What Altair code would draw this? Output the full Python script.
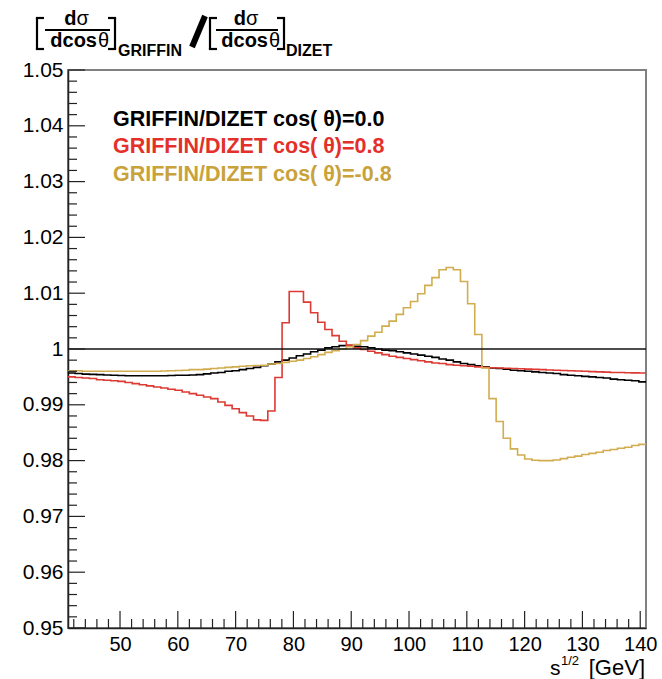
import altair as alt
import pandas as pd

FONT = "Liberation Sans"

# Histogram binning (81 bins between 41 and 141 GeV)
X_LO, X_HI, N_BINS = 41.0, 141.0, 81

# Ratio GRIFFIN/DIZET, one value per bin
ratio_cos00 = [
    0.9957, 0.9956, 0.9955, 0.99545, 0.9954, 0.99535, 0.9953, 0.99525, 0.9952, 0.9952,
    0.9952, 0.9952, 0.9952, 0.9952, 0.99525, 0.9953, 0.9953, 0.99535, 0.9954, 0.99555,
    0.9957, 0.9958, 0.9960, 0.9961, 0.9963, 0.9965, 0.9967, 0.9970, 0.9973, 0.9977,
    0.9980, 0.9984, 0.9988, 0.9991, 0.9995, 0.9998, 1.0002, 1.0004, 1.0006, 1.0006,
    1.0005, 1.0004, 1.0002, 1.0000, 0.9998, 0.9997, 0.9995, 0.9993, 0.9991, 0.9989,
    0.9987, 0.9985, 0.9982, 0.9980, 0.9977, 0.9974, 0.9972, 0.9970, 0.9968, 0.9966,
    0.9965, 0.9964, 0.9962, 0.9961, 0.9960, 0.9959, 0.9958, 0.9957, 0.9956, 0.9954,
    0.9953, 0.9952, 0.9951, 0.9950, 0.9949, 0.9948, 0.9946, 0.9945, 0.9944, 0.9943,
    0.9941,
]
ratio_cos08 = [
    0.9950, 0.9949, 0.9948, 0.9947, 0.9945, 0.9944, 0.9943, 0.9942, 0.9940, 0.9938,
    0.9936, 0.9934, 0.9932, 0.9930, 0.9928, 0.9926, 0.9923, 0.9920, 0.9917, 0.9914,
    0.9911, 0.9905, 0.9899, 0.9893, 0.9886, 0.9880, 0.9873, 0.9872, 0.9889, 0.9949,
    1.0047, 1.0103, 1.0103, 1.0084, 1.0065, 1.0048, 1.0035, 1.0024, 1.0014, 1.0007,
    1.0002, 0.9999, 0.9996, 0.9993, 0.9990, 0.9987, 0.9985, 0.9983, 0.9981, 0.9979,
    0.9977, 0.9975, 0.9974, 0.9972, 0.9971, 0.9970, 0.9969, 0.9968, 0.9967, 0.99665,
    0.9966, 0.99655, 0.9965, 0.99645, 0.9964, 0.99635, 0.9963, 0.99625, 0.9962, 0.99615,
    0.9961, 0.99605, 0.9960, 0.99595, 0.9959, 0.99585, 0.9958, 0.99578, 0.99575, 0.99572,
    0.9957,
]
ratio_cosm08 = [
    0.9961, 0.9961, 0.9960, 0.9960, 0.9960, 0.9960, 0.9960, 0.9960, 0.9960, 0.9960,
    0.9960, 0.9960, 0.9960, 0.99605, 0.9961, 0.99615, 0.9962, 0.9963, 0.9963, 0.9964,
    0.9965, 0.9966, 0.9967, 0.9968, 0.9969, 0.9970, 0.99705, 0.9971, 0.9973, 0.9974,
    0.9976, 0.9978, 0.9980, 0.9983, 0.9986, 0.9990, 0.9994, 0.9997, 1.0000, 1.0004,
    1.0008, 1.0015, 1.0023, 1.0030, 1.0041, 1.0050, 1.0062, 1.0074, 1.0085, 1.0099,
    1.0114, 1.0128, 1.0142, 1.0146, 1.0142, 1.0121, 1.0081, 1.0026, 0.9966, 0.9911,
    0.9870, 0.9840, 0.9821, 0.9810, 0.9803, 0.98005, 0.9800, 0.9800, 0.9801, 0.98035,
    0.9806, 0.9808, 0.9811, 0.9813, 0.9815, 0.9818, 0.9820, 0.9822, 0.9824, 0.9827,
    0.9829,
]

series_labels = [
    "GRIFFIN/DIZET cos( \u03b8)=0.0",
    "GRIFFIN/DIZET cos( \u03b8)=0.8",
    "GRIFFIN/DIZET cos( \u03b8)=-0.8",
]
series_colors = ["#000000", "#e3302a", "#c9a23a"]
line_colors = ["#000000", "#dc3a32", "#d2ad50"]

y_major = [0.95, 0.96, 0.97, 0.98, 0.99, 1.00, 1.01, 1.02, 1.03, 1.04, 1.05]
y_minor = [round(0.95 + 0.002 * k, 3) for k in range(51) if k % 5 != 0]
x_major = [50, 60, 70, 80, 90, 100, 110, 120, 130, 140]
x_minor = [v for v in range(42, 141, 2) if v % 10 != 0]
ref_level = [1.0]

W, H = 578, 558

bin_w = (X_HI - X_LO) / N_BINS
edges = [X_LO + i * bin_w for i in range(N_BINS)]

xs = alt.Scale(domain=[X_LO, X_HI], nice=False, zero=False)
ys = alt.Scale(domain=[0.95, 1.05], nice=False, zero=False)

x_axis = alt.Axis(values=x_major, ticks=False, grid=False, labelFontSize=20, labelFont=FONT,
                  labelColor="black", labelPadding=6, domainColor="#222222", domainWidth=1.5,
                  title=None, labelFlush=False, labelOverlap=False)
y_axis = alt.Axis(values=y_major, ticks=False, grid=False, labelFontSize=21, labelFont=FONT,
                  labelColor="black", labelPadding=5, domainColor="#222222", domainWidth=1.5,
                  title=None, labelFlush=False, labelOverlap=False,
                  labelExpr="datum.value == 1 ? '1' : format(datum.value, '.2f')")

XE = alt.X("x:Q", scale=xs, axis=x_axis)
YE = alt.Y("y:Q", scale=ys, axis=y_axis)


def hist_df(vals):
    xx = edges + [X_HI]
    yy = list(vals) + [vals[-1]]
    return pd.DataFrame({"x": xx, "y": yy})


layers = []

for vals, col in zip([ratio_cos00, ratio_cos08, ratio_cosm08], line_colors):
    layers.append(
        alt.Chart(hist_df(vals)).mark_line(interpolate="step-after", color=col, strokeWidth=1.6)
        .encode(x=XE, y=YE)
    )

# reference line at 1
layers.append(
    alt.Chart(pd.DataFrame({"y": ref_level})).mark_rule(color="#111111", strokeWidth=1.3)
    .encode(y=YE)
)

# inside ticks
layers.append(alt.Chart(pd.DataFrame({"y": y_major})).mark_rule(color="#222222", strokeWidth=1.2)
              .encode(y=YE, x=alt.value(0), x2=alt.value(17)))
layers.append(alt.Chart(pd.DataFrame({"y": y_minor})).mark_rule(color="#222222", strokeWidth=1.2)
              .encode(y=YE, x=alt.value(0), x2=alt.value(9)))
layers.append(alt.Chart(pd.DataFrame({"x": x_major})).mark_rule(color="#222222", strokeWidth=1.2)
              .encode(x=XE, y=alt.value(H), y2=alt.value(H - 17)))
layers.append(alt.Chart(pd.DataFrame({"x": x_minor})).mark_rule(color="#222222", strokeWidth=1.2)
              .encode(x=XE, y=alt.value(H), y2=alt.value(H - 9)))

one = pd.DataFrame({"a": [0]})


def txt(s, x, y, size, bold=True, align="left", color="black", baseline="alphabetic"):
    return alt.Chart(one).mark_text(text=s, font=FONT, fontSize=size,
                                    fontWeight="bold" if bold else "normal",
                                    align=align, baseline=baseline, color=color).encode(
        x=alt.value(x), y=alt.value(y))


def seg(x1, y1, x2, y2, w=2.2, color="black"):
    return alt.Chart(one).mark_rule(color=color, strokeWidth=w, strokeCap="butt").encode(
        x=alt.value(x1), x2=alt.value(x2), y=alt.value(y1), y2=alt.value(y2))


# legend
for lab, col, yy in zip(series_labels, series_colors, [50, 77, 104.5]):
    layers.append(txt(lab, 45, yy, 21.5, True, "left", col, "middle"))

# axis title  s^{1/2} [GeV]
layers.append(txt("[GeV]", 577, 605, 22, False, "right"))
layers.append(txt("s", 482, 605, 21, False, "left"))
layers.append(txt("1/2", 493, 595, 13, False, "left"))


# y title: [dσ/dcosθ]_GRIFFIN / [dσ/dcosθ]_DIZET  (absolute px -> plot coords)
def ax(px):
    return px - 68


def ay(py):
    return py - 70


def bracket_l(x, top, bot, serif=7):
    return [seg(ax(x), ay(top), ax(x), ay(bot)),
            seg(ax(x) - 1.1, ay(top), ax(x + serif), ay(top)),
            seg(ax(x) - 1.1, ay(bot), ax(x + serif), ay(bot))]


def bracket_r(x, top, bot, serif=7):
    return [seg(ax(x), ay(top), ax(x), ay(bot)),
            seg(ax(x - serif), ay(top), ax(x) + 1.1, ay(top)),
            seg(ax(x - serif), ay(bot), ax(x) + 1.1, ay(bot))]


def fraction(bar_l, bar_r):
    mid = (bar_l + bar_r) / 2
    out = [seg(ax(bar_l), ay(30), ax(bar_r), ay(30), 2)]
    out.append(txt("d", ax(mid - 1), ay(25), 20, True, "right"))
    out.append(txt("\u03c3", ax(mid - 1), ay(25), 20, False, "left"))
    out.append(txt("dcos", ax(bar_l + 52), ay(47), 20, True, "right"))
    out.append(txt("\u03b8", ax(bar_l + 53), ay(47), 20, False, "left"))
    return out


layers += bracket_l(37, 18, 49)
layers += fraction(45, 110)
layers += bracket_r(115, 18, 49)
layers.append(txt("GRIFFIN", ax(118), ay(56), 16, True, "left"))
layers.append(seg(ax(192), ay(47), ax(205), ay(16), 6))
layers += bracket_l(210, 18, 49)
layers += fraction(216, 278)
layers += bracket_r(284, 18, 49)
layers.append(txt("DIZET", ax(286), ay(56), 16, True, "left"))

chart = alt.layer(*layers).properties(
    width=W, height=H,
    autosize=alt.AutoSizeParams(type="none"),
    padding={"left": 68, "top": 70, "right": 16, "bottom": 51},
    background="white",
).configure_view(stroke="#808080", strokeWidth=2)

chart.save("out.html", embed_options={"renderer": "svg", "actions": False})
